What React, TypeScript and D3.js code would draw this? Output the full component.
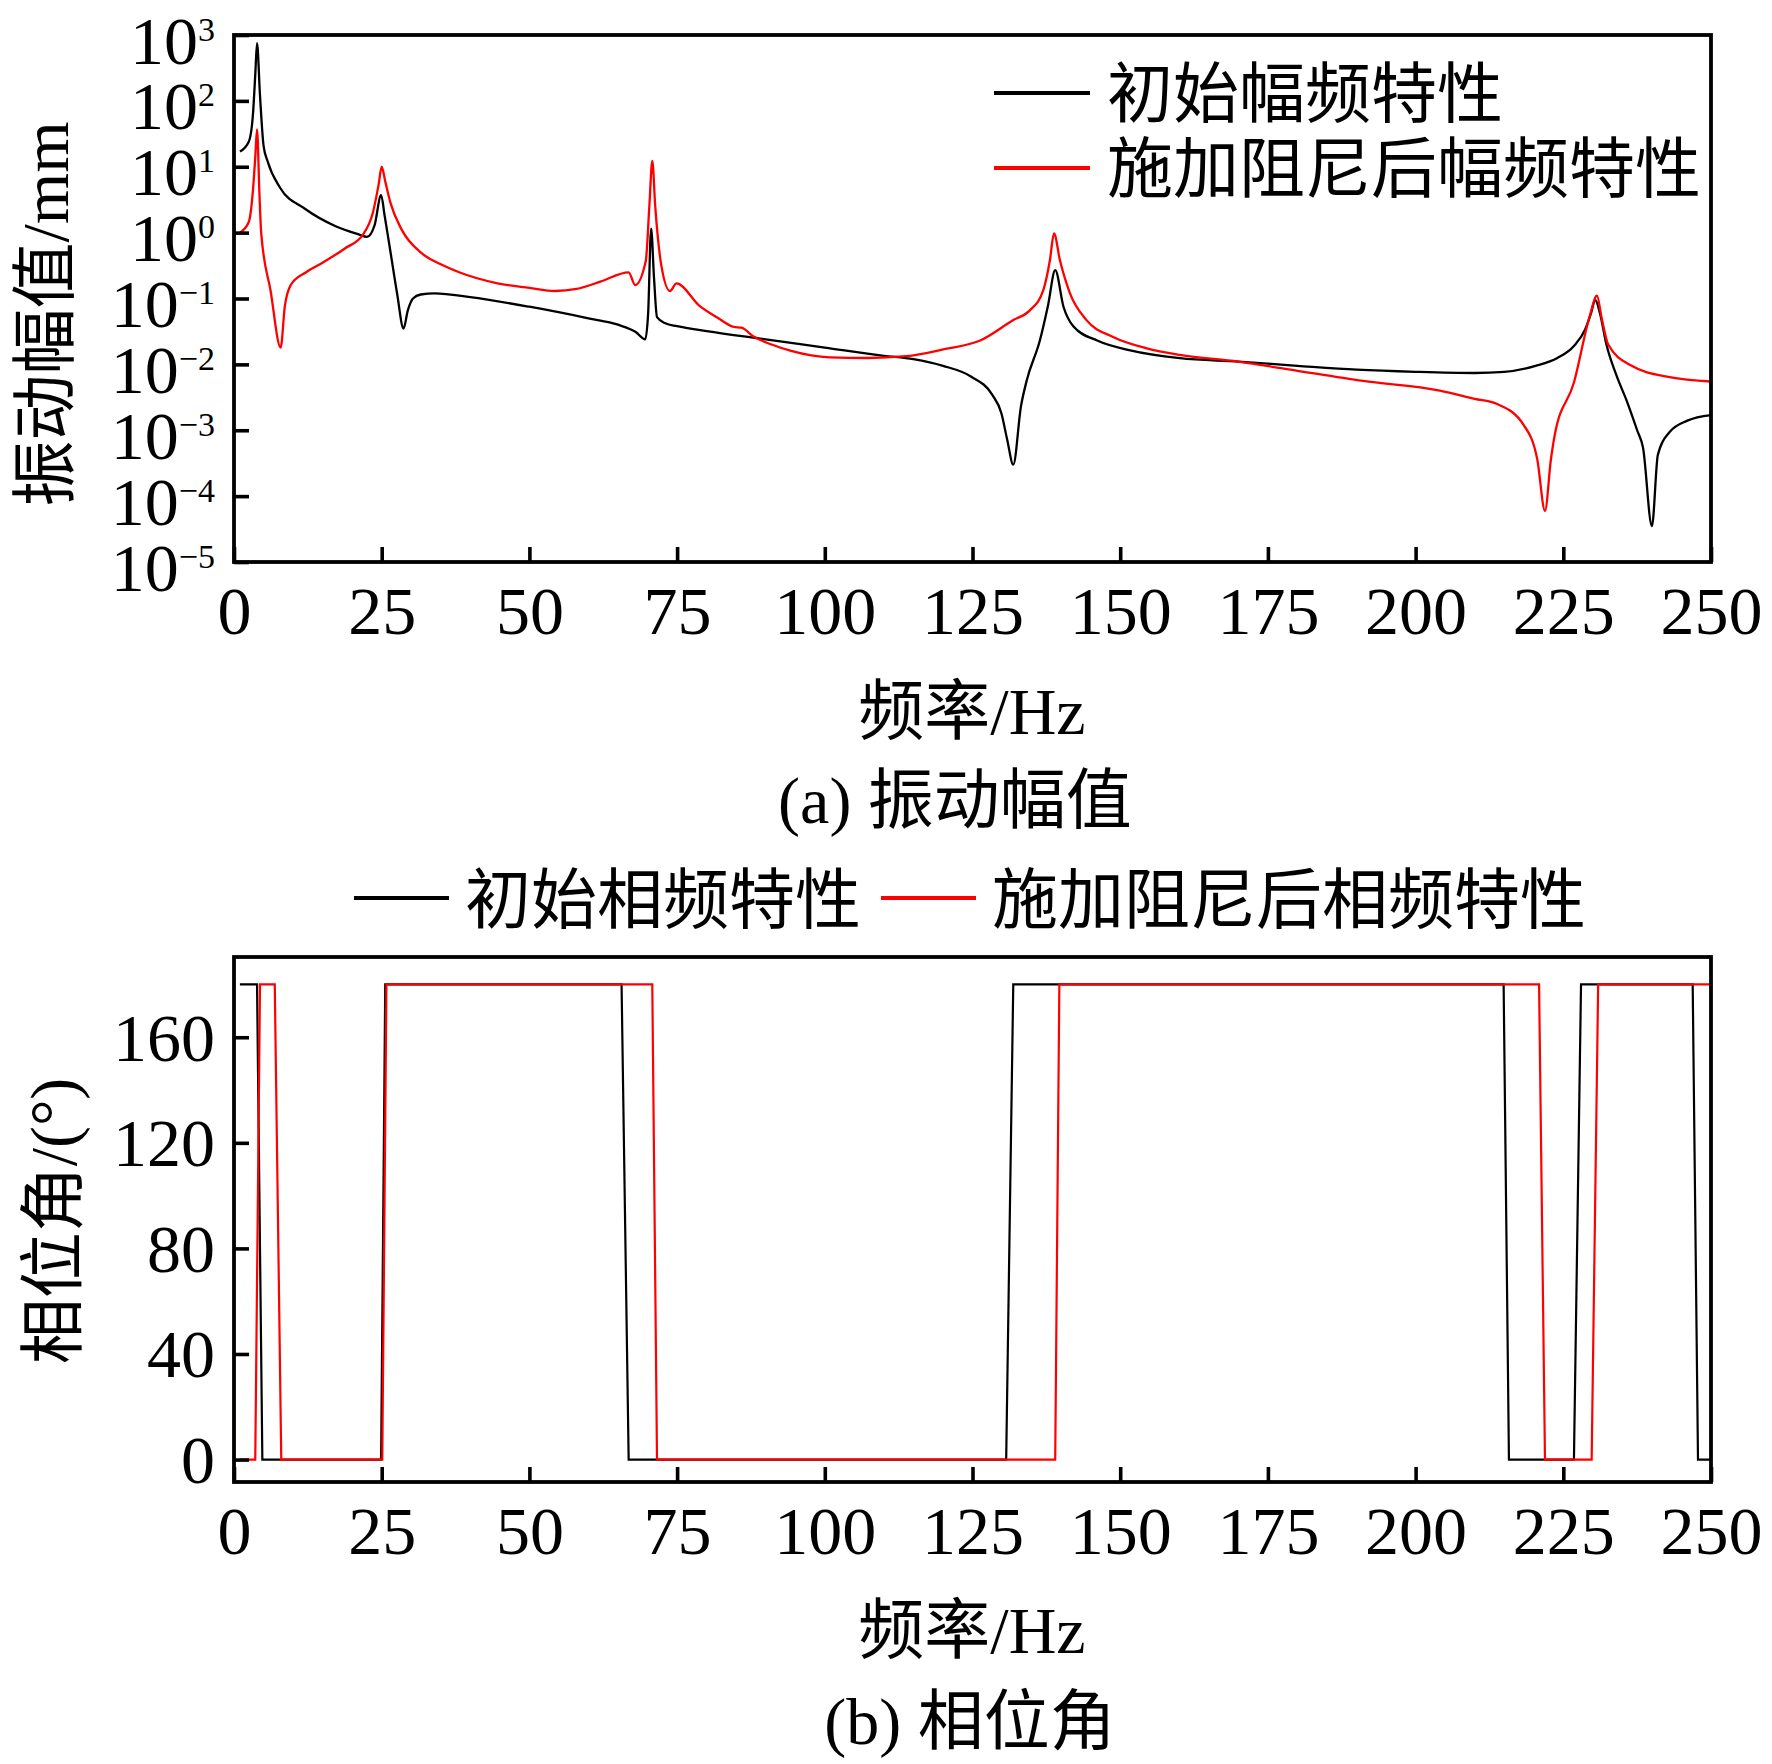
import { useEffect, useRef } from 'react';
import * as d3 from 'd3';

// axis ticks
const freqTicks = [0, 25, 50, 75, 100, 125, 150, 175, 200, 225, 250];
const ampExponents = [-5, -4, -3, -2, -1, 0, 1, 2, 3];
const phaseTicks = [0, 40, 80, 120, 160];

// (a) amplitude, initial (mm)
const initAmpFreq = [
  1, 2.5, 3.2, 3.6, 3.9, 4.4, 5.0, 5.7, 7.8, 12, 17.2, 21.1, 22.5, 23.8, 24.9, 25.5, 26.5, 27.6,
  28.7, 29.4, 30.3, 31.6, 34, 40, 50, 60, 65, 68, 69.6, 70.1, 70.6, 71.1, 71.6, 73, 75, 80, 90,
  100, 110, 115, 120, 124.8, 128.3, 129.9, 130.9, 131.9, 133.2, 134.2, 136.4, 137.8, 139, 140.4,
  142.1, 146.1, 151.7, 160.1, 170, 180, 190, 200, 210, 215, 220.3, 224, 226.8, 228.7, 229.7, 230.4,
  231.2, 232.3, 234, 235.8, 237.5, 238.5, 240, 241, 243, 246, 250,
];
const initAmp = [
  17, 24, 61, 250, 750, 120, 21, 12, 4.8, 2.3, 1.25, 0.94, 0.86, 1.3, 3.7, 1.8, 0.5, 0.12,
  0.035, 0.065, 0.1, 0.115, 0.12, 0.105, 0.075, 0.05, 0.04, 0.031, 0.024, 0.06, 1.15, 0.2, 0.052,
  0.042, 0.038, 0.032, 0.024, 0.018, 0.0135, 0.012, 0.0095, 0.0065, 0.0035, 0.0018, 0.0007,
  0.0003, 0.0023, 0.0058, 0.023, 0.08, 0.27, 0.075, 0.0375, 0.023, 0.0163, 0.0124, 0.011, 0.0095,
  0.0083, 0.0077, 0.0074, 0.0077, 0.0095, 0.0125, 0.019, 0.034, 0.06, 0.095, 0.06, 0.02, 0.0068,
  0.0027, 0.001, 0.00054, 0.000035, 0.00042, 0.00094, 0.0014, 0.0017,
];

// (a) amplitude, with damping (mm)
const dampAmpFreq = [
  1, 2.5, 3.2, 3.6, 3.9, 4.3, 4.6, 6.2, 7.9, 8.6, 9.6, 12.2, 15, 18.7, 21.9, 23.5, 24.5, 25, 25.6,
  26.5, 28.4, 31.6, 35, 38.1, 44.6, 50, 54.3, 58, 62, 66.8, 67.9, 69.7, 70.3, 70.8, 71.3, 72.3,
  73.8, 74.9, 78.8, 82, 84.6, 85.9, 87.8, 91, 94.3, 100.8, 107.3, 113.8, 120.2, 126.3, 131.9,
  134.7, 137, 138.1, 138.8, 139.8, 141.5, 144.3, 148.8, 154.5, 160.1, 170, 178.2, 191.1,
  204.1, 210, 213.8, 218.3, 220.6, 221.9, 222.9, 223.5, 226.8, 229.4, 230.7, 231.5, 232.6,
  236.5, 243, 250,
];
const dampAmp = [
  1.0, 1.45, 4.3, 14, 37, 4, 1.0, 0.13, 0.018, 0.076, 0.16, 0.25, 0.35, 0.57, 0.95, 2.0, 5.5, 10,
  6, 2.8, 1.1, 0.5, 0.33, 0.25, 0.17, 0.145, 0.13, 0.14, 0.18, 0.25, 0.16, 0.37, 2.5, 12.3, 2.5,
  0.33, 0.13, 0.17, 0.077, 0.05, 0.037, 0.036, 0.027, 0.02, 0.016, 0.0128, 0.0125, 0.0133, 0.017,
  0.023, 0.047, 0.066, 0.135, 0.38, 0.97, 0.38, 0.12, 0.047, 0.026, 0.0175, 0.0139, 0.011,
  0.0085, 0.0056, 0.004, 0.003, 0.0025, 0.0012, 0.00036, 0.00006, 0.00036, 0.0008, 0.0053, 0.051,
  0.11, 0.05, 0.02, 0.0096, 0.0064, 0.0055,
];

// (b) phase angle (deg)
const initPhaseFreq = [1, 3.9, 4.8, 24.9, 25.6, 65.6, 66.8, 130.7, 131.9, 214.9, 215.8, 226.8, 228, 246.9, 247.8, 250];
const initPhase = [180, 180, 0, 0, 180, 180, 0, 0, 180, 180, 0, 0, 180, 180, 0, 0];
const dampPhaseFreq = [1, 3.6, 4.4, 6.9, 8, 25.1, 25.8, 70.8, 71.6, 139, 139.7, 220.9, 221.9, 229.8, 230.9, 250];
const dampPhase = [0, 0, 180, 180, 0, 0, 180, 180, 0, 0, 180, 180, 0, 0, 180, 180];

const ampLegend = ['初始幅频特性', '施加阻尼后幅频特性'];
const phaseLegend = ['初始相频特性', '施加阻尼后相频特性'];
const seriesColors = ['#000000', '#ff0000'];

const font = "'Liberation Serif', 'Times New Roman', 'Noto Sans CJK SC', serif";

const App = () => {
  const ref = useRef<SVGSVGElement>(null!);

  useEffect(() => {
    document.body.style.margin = '0';
    const width = 1772;
    const height = 1764;
    const left = 234;
    const right = 1711;
    const a = { top: 35, bottom: 562 };
    const b = { top: 957, bottom: 1482 };

    const svg = d3.select(ref.current);
    svg.selectAll('*').remove();
    svg.attr('width', width).attr('height', height).attr('font-family', font);
    svg.append('rect').attr('width', width).attr('height', height).attr('fill', '#fff');

    const x = d3.scaleLinear().domain([0, 250]).range([left, right]);
    const yAmp = d3.scaleLog().domain([1e-5, 1e3]).range([a.bottom, a.top]);
    const yPh = d3.scaleLinear().domain([-8.5, 190.4]).range([b.bottom, b.top]);

    const defs = svg.append('defs');
    defs.append('clipPath').attr('id', 'clipA').append('rect')
      .attr('x', left).attr('y', a.top).attr('width', right - left).attr('height', a.bottom - a.top);
    defs.append('clipPath').attr('id', 'clipB').append('rect')
      .attr('x', left).attr('y', b.top).attr('width', right - left).attr('height', b.bottom - b.top);

    const styleAxis = (g: d3.Selection<SVGGElement, unknown, null, undefined>) => {
      g.attr('font-family', font).attr('font-size', 68);
      g.select('.domain').remove();
      g.selectAll('.tick line').attr('stroke', '#000').attr('stroke-width', 3.6);
      g.selectAll('.tick text').attr('fill', '#000');
    };

    // ---- (a) amplitude ----
    const ampLine = d3.line<[number, number]>()
      .x(d => x(d[0]))
      .y(d => yAmp(d[1]))
      .curve(d3.curveMonotoneX);
    const ampSeries = [d3.zip(initAmpFreq, initAmp), d3.zip(dampAmpFreq, dampAmp)];
    svg.append('g').attr('clip-path', 'url(#clipA)')
      .selectAll('path').data(ampSeries).enter().append('path')
      .attr('d', d => ampLine(d as [number, number][]))
      .attr('fill', 'none')
      .attr('stroke', (_, i) => seriesColors[i])
      .attr('stroke-width', 2.3)
      .attr('stroke-linejoin', 'round');

    svg.append('g').attr('transform', `translate(0,${a.bottom})`)
      .call(d3.axisBottom(x).tickValues(freqTicks).tickSizeInner(-15).tickSizeOuter(0).tickPadding(24).tickFormat(d3.format('d')))
      .call(styleAxis);

    const gyA = svg.append('g').attr('transform', `translate(${left},0)`)
      .call(d3.axisLeft(yAmp).tickValues(ampExponents.map(e => Math.pow(10, e))).tickSizeInner(-15).tickSizeOuter(0).tickPadding(19).tickFormat(() => ''))
      .call(styleAxis);
    gyA.selectAll<SVGTextElement, number>('.tick text')
      .attr('dy', 28)
      .each(function (d) {
        const e = Math.round(Math.log10(d));
        const t = d3.select(this);
        t.append('tspan').text('10');
        t.append('tspan').attr('dy', -23).attr('font-size', 34).text(e < 0 ? `\u2212${-e}` : `${e}`);
      });

    svg.append('rect').attr('x', left).attr('y', a.top).attr('width', right - left).attr('height', a.bottom - a.top)
      .attr('fill', 'none').attr('stroke', '#000').attr('stroke-width', 3.8);

    // legend (a)
    const legA = svg.append('g').attr('font-size', 66);
    ampLegend.forEach((label, i) => {
      const cy = 93 + i * 75;
      legA.append('line').attr('x1', 994).attr('x2', 1090).attr('y1', cy).attr('y2', cy)
        .attr('stroke', seriesColors[i]).attr('stroke-width', 4);
      legA.append('text').attr('x', 1107).attr('y', cy + 24).attr('fill', '#000').text(label);
    });

    svg.append('text').attr('x', 972).attr('y', 734).attr('text-anchor', 'middle').attr('font-size', 66).text('频率/Hz');
    svg.append('text').attr('x', 955).attr('y', 823).attr('text-anchor', 'middle').attr('font-size', 66).text('(a) 振动幅值');
    svg.append('text').attr('transform', 'translate(68,314) rotate(-90)').attr('text-anchor', 'middle').attr('font-size', 66).text('振动幅值/mm');

    // ---- (b) phase ----
    const phLine = d3.line<[number, number]>().x(d => x(d[0])).y(d => yPh(d[1]));
    const phSeries = [d3.zip(initPhaseFreq, initPhase), d3.zip(dampPhaseFreq, dampPhase)];
    svg.append('g').attr('clip-path', 'url(#clipB)')
      .selectAll('path').data(phSeries).enter().append('path')
      .attr('d', d => phLine(d as [number, number][]))
      .attr('fill', 'none')
      .attr('stroke', (_, i) => seriesColors[i])
      .attr('stroke-width', 2.2);

    svg.append('g').attr('transform', `translate(0,${b.bottom})`)
      .call(d3.axisBottom(x).tickValues(freqTicks).tickSizeInner(-15).tickSizeOuter(0).tickPadding(24).tickFormat(d3.format('d')))
      .call(styleAxis);

    svg.append('g').attr('transform', `translate(${left},0)`)
      .call(d3.axisLeft(yPh).tickValues(phaseTicks).tickSizeInner(-15).tickSizeOuter(0).tickPadding(19).tickFormat(d3.format('d')))
      .call(styleAxis)
      .selectAll('.tick text').attr('dy', 23);

    svg.append('rect').attr('x', left).attr('y', b.top).attr('width', right - left).attr('height', b.bottom - b.top)
      .attr('fill', 'none').attr('stroke', '#000').attr('stroke-width', 3.8);

    // legend (b), above the plot
    const legB = svg.append('g').attr('font-size', 66);
    const legBx = [354, 881];
    phaseLegend.forEach((label, i) => {
      const lx = legBx[i];
      legB.append('line').attr('x1', lx).attr('x2', lx + 95).attr('y1', 898).attr('y2', 898)
        .attr('stroke', seriesColors[i]).attr('stroke-width', 4);
      legB.append('text').attr('x', lx + 111).attr('y', 923).attr('fill', '#000').text(label);
    });

    svg.append('text').attr('x', 972).attr('y', 1653).attr('text-anchor', 'middle').attr('font-size', 66).text('频率/Hz');
    svg.append('text').attr('x', 970).attr('y', 1744).attr('text-anchor', 'middle').attr('font-size', 66).text('(b) 相位角');
    svg.append('text').attr('transform', 'translate(76,1221) rotate(-90)').attr('text-anchor', 'middle').attr('font-size', 66).text('相位角/(°)');

    return () => {
      svg.selectAll('*').remove();
    };
  }, []);

  return <svg ref={ref} style={{ display: 'block' }}></svg>;
};

export default App;
